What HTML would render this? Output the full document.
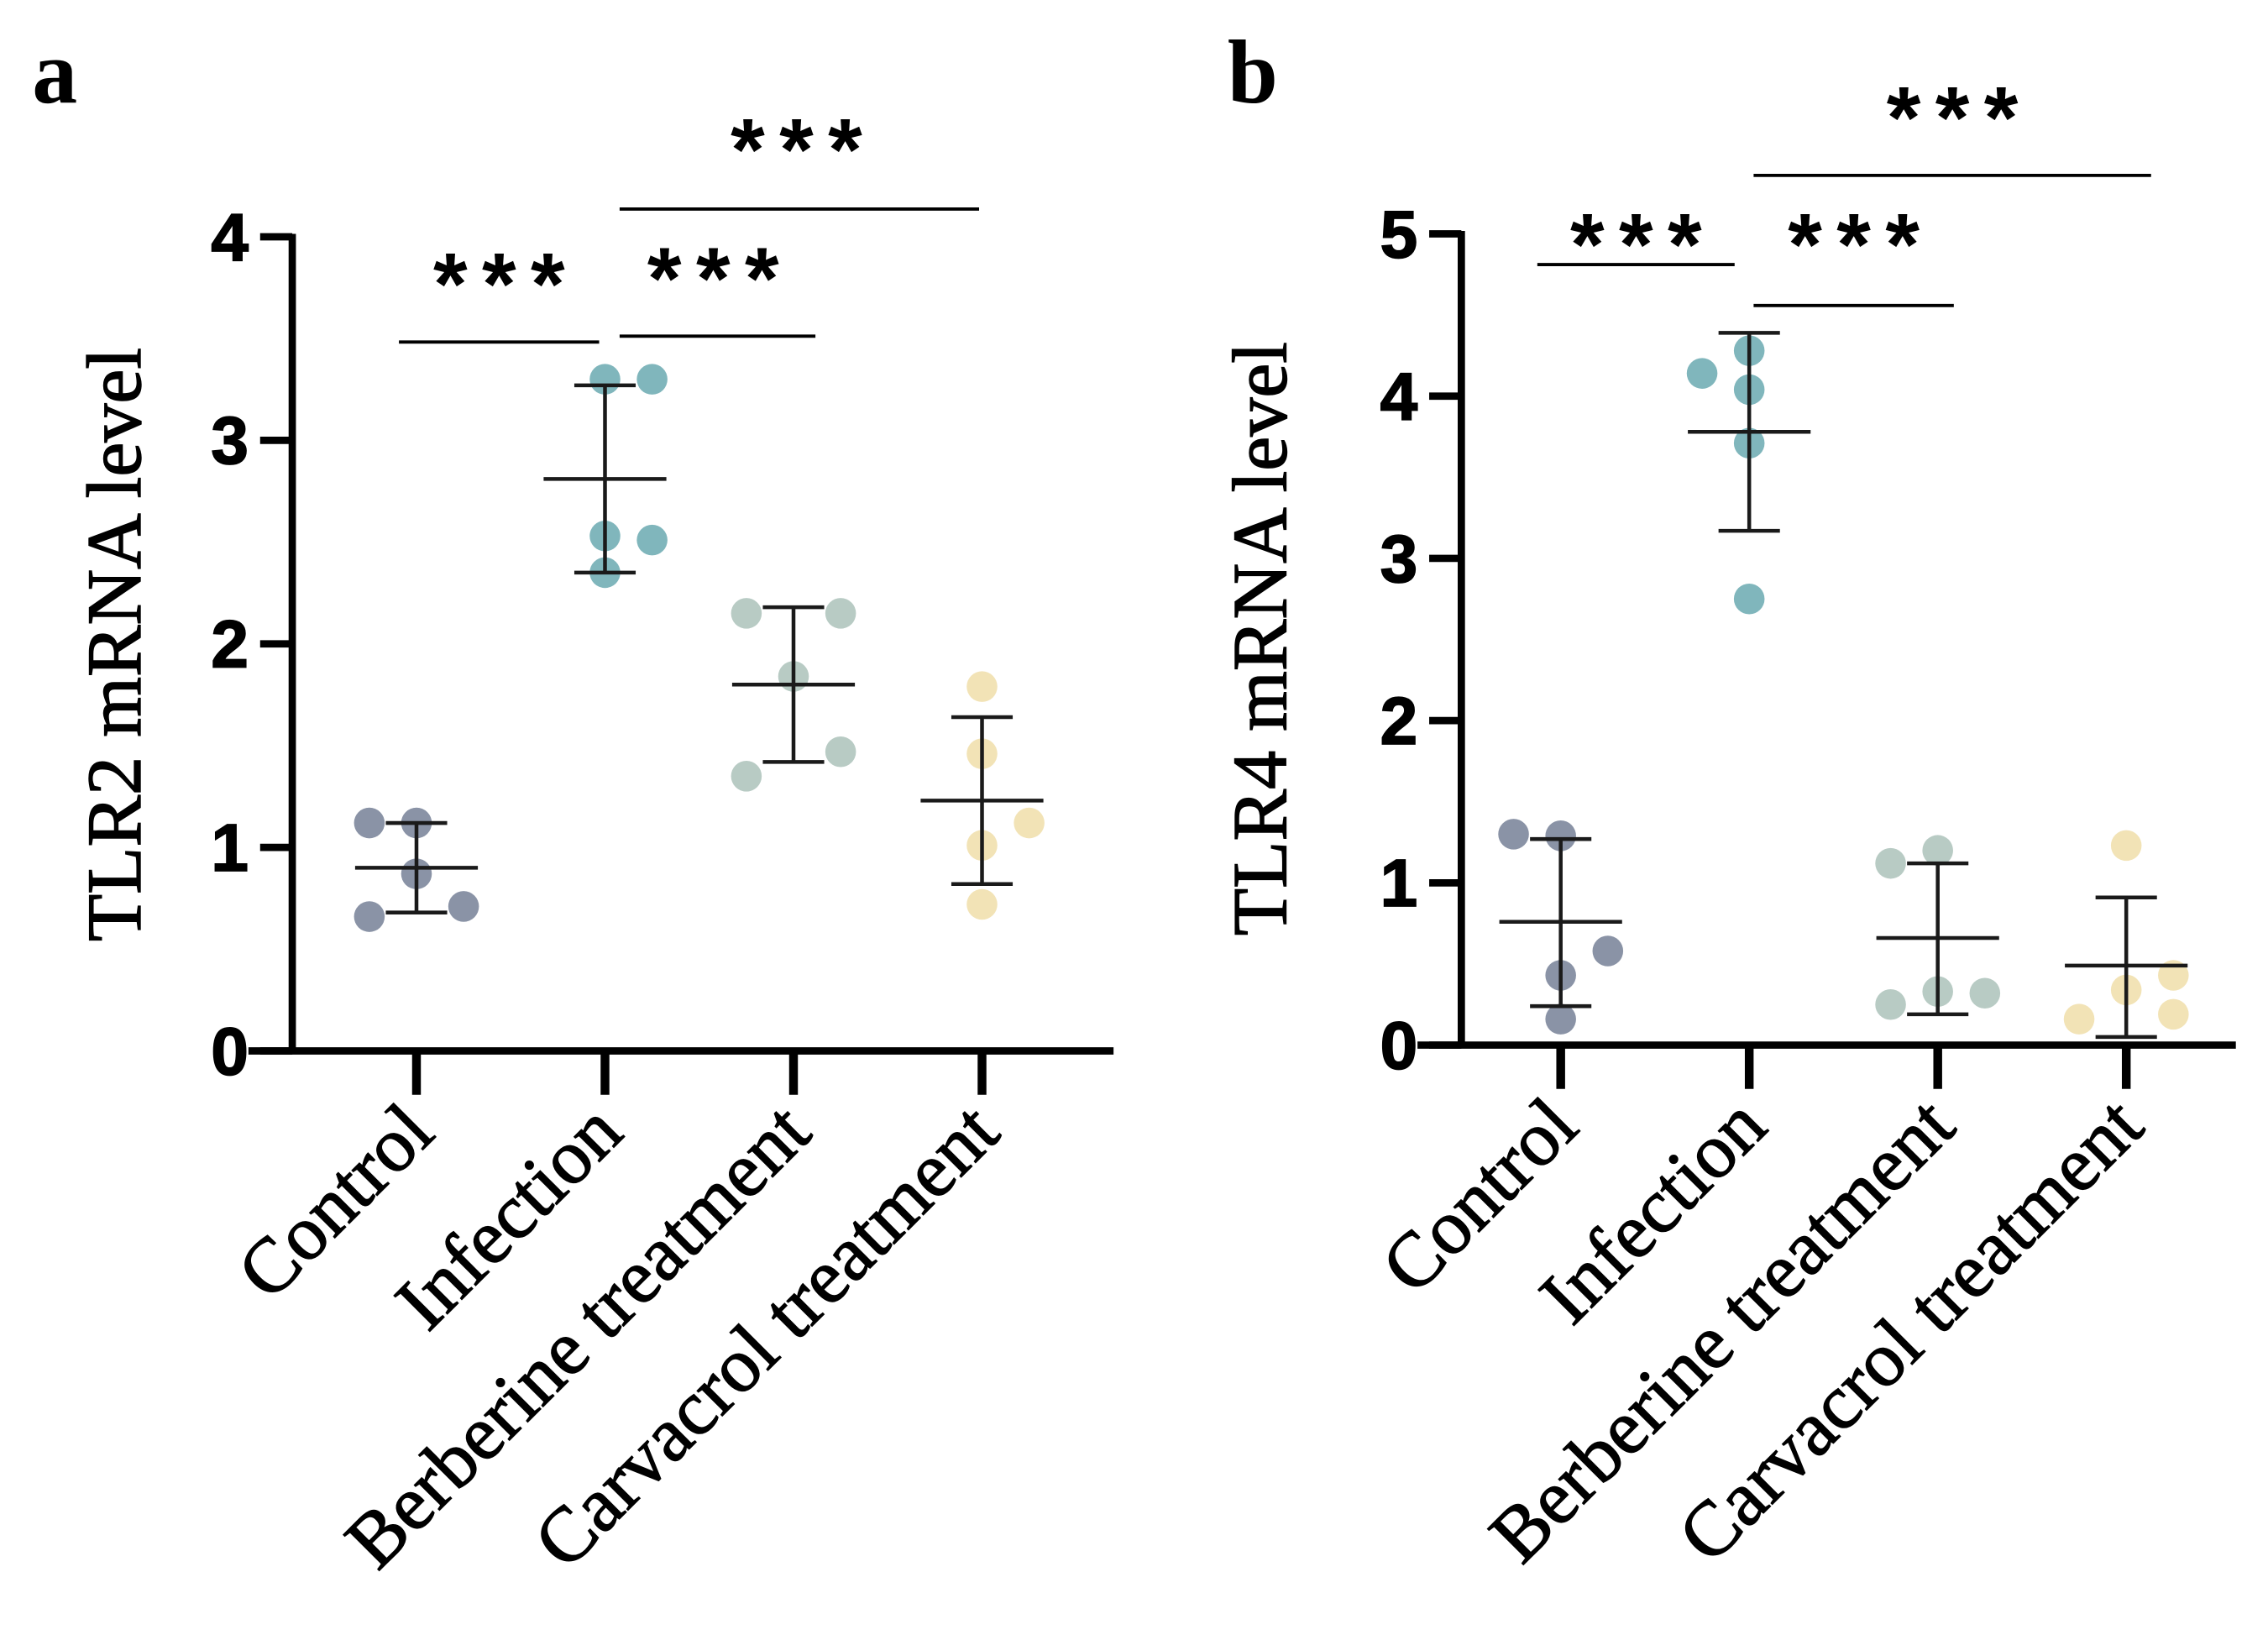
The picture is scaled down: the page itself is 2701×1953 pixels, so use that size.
<!DOCTYPE html>
<html><head><meta charset="utf-8"><style>html,body{margin:0;padding:0;background:#fff}svg{display:block}</style></head>
<body>
<svg id="fig" width="2701" height="1953" viewBox="0 0 1552 1122" preserveAspectRatio="none" xmlns="http://www.w3.org/2000/svg"></svg>
<script>
const categories = ["Control","Infection","Berberine treatment","Carvacrol treatment"];
const colors = ["#8a93a6","#80b6bc","#b8cbc4","#f2e3b6"];
const aValues = [[1.12,1.12,0.87,0.66,0.71],[3.30,3.30,2.53,2.51,2.35],[2.15,2.15,1.84,1.35,1.47],[1.79,1.46,1.01,1.12,0.72]];
const aJitter = [[-1,0,0,-1,1],[0,1,0,1,0],[-1,1,0,-1,1],[0,0,0,1,0]];
const aMean = [0.90,2.81,1.80,1.23];
const aHi = [1.12,3.27,2.18,1.64];
const aLo = [0.68,2.35,1.42,0.82];
const aTicks = [0,1,2,3,4];
const bValues = [[1.30,1.29,0.43,0.58,0.16],[4.14,4.28,4.04,3.71,2.75],[1.12,1.20,0.25,0.33,0.32],[1.23,0.43,0.34,0.16,0.19]];
const bJitter = [[-1,0,0,1,0],[-1,0,0,0,0],[-1,0,-1,0,1],[0,1,0,-1,1]];
const bMean = [0.76,3.78,0.66,0.49];
const bHi = [1.27,4.39,1.12,0.91];
const bLo = [0.24,3.17,0.19,0.05];
const bTicks = [0,1,2,3,4,5];

const svg=document.getElementById('fig');
const NS="http://www.w3.org/2000/svg";
function el(tag,attrs,parent){const e=document.createElementNS(NS,tag);for(const k in attrs)e.setAttribute(k,attrs[k]);(parent||svg).appendChild(e);return e;}

function panel(p){
  const g=el('g',{});
  
  
  const y=v=>p.y0-(v/p.max)*(p.y0-p.yTop);
  const x=i=>p.x0+i*p.step;
  const lt=el('text',{x:p.letterX,y:70,'font-family':'Liberation Serif, serif','font-weight':'bold','font-size':62},g);
  lt.textContent=p.letter;
  
  
  const ya=el('line',{x1:p.axX,y1:y(p.max)-2,x2:p.axX,y2:p.y0+2,stroke:'#000','stroke-width':5},g);
  
  
  const xa=el('line',{x1:p.axX-30,y1:p.y0,x2:p.axEnd,y2:p.y0,stroke:'#000','stroke-width':5},g);
  
  
  p.ticks.forEach(t=>{
    el('line',{x1:p.axX-22,y1:y(t),x2:p.axX,y2:y(t),stroke:'#000','stroke-width':5},g);
    const tx=el('text',{x:p.axX-30,y:y(t)+16,'text-anchor':'end','font-family':'Liberation Sans, sans-serif','font-weight':'bold','font-size':46,stroke:'#000','stroke-width':1},g);
    tx.textContent=t;
    
    
  });
  const yt=el('text',{transform:`translate(${p.titleX},${p.titleY}) rotate(-90)`,'text-anchor':'middle','font-family':'Liberation Serif, serif','font-size':53,stroke:'#000','stroke-width':0.8},g);
  yt.textContent=p.title;
  
  
  categories.forEach((c,i)=>{
    el('line',{x1:x(i),y1:p.y0,x2:x(i),y2:p.y0+30,stroke:'#000','stroke-width':6},g);
    const ct=el('text',{transform:`translate(${x(i)+14},${p.y0+58}) rotate(-45)`,'text-anchor':'end','font-family':'Liberation Serif, serif','font-size':53,stroke:'#000','stroke-width':0.8},g);
    ct.textContent=c;
    
    
    p.vals[i].forEach((v,j)=>{
      const d=el('circle',{cx:x(i)+p.jit[i][j]*p.step*0.25,cy:y(v),r:10.5,fill:colors[i]},g);
      
      
    });
    const eb=el('g',{stroke:'#1a1a1a','stroke-width':2.6},g);
    
    
    el('line',{x1:x(i),y1:y(p.hi[i]),x2:x(i),y2:y(p.lo[i])},eb);
    el('line',{x1:x(i)-21,y1:y(p.hi[i]),x2:x(i)+21,y2:y(p.hi[i])},eb);
    el('line',{x1:x(i)-21,y1:y(p.lo[i]),x2:x(i)+21,y2:y(p.lo[i])},eb);
    el('line',{x1:x(i)-42,y1:y(p.mean[i]),x2:x(i)+42,y2:y(p.mean[i])},eb);
  });
  p.sig.forEach(s=>{
    el('line',{x1:s[0],y1:s[2],x2:s[1],y2:s[2],stroke:'#000','stroke-width':2.2},g);
    const st=el('text',{x:(s[0]+s[1])/2+(s[4]||0)+5,y:s[3],'text-anchor':'middle','font-family':'Liberation Sans, sans-serif','font-weight':'bold','font-size':60,'letter-spacing':10},g);
    st.textContent='***';
    
    
  });
}
panel({name:'panel-a-tlr2',letter:'a',letterX:22,axX:200,axEnd:762,y0:719,yTop:162,max:4,x0:285,step:129,ticks:aTicks,title:'TLR2 mRNA level',titleX:96,titleY:441,vals:aValues,jit:aJitter,mean:aMean,hi:aHi,lo:aLo,
  sig:[[273,410,234,215],[424,558,230,211,-3],[424,670,143,123,-2]]});
panel({name:'panel-b-tlr4',letter:'b',letterX:840,axX:1000,axEnd:1530,y0:715,yTop:160,max:5,x0:1068,step:129,ticks:bTicks,title:'TLR4 mRNA level',titleX:880,titleY:437,vals:bValues,jit:bJitter,mean:bMean,hi:bHi,lo:bLo,
  sig:[[1052,1187,181,188],[1200,1337,209,188],[1200,1472,120,101]]});
</script>
</body></html>
